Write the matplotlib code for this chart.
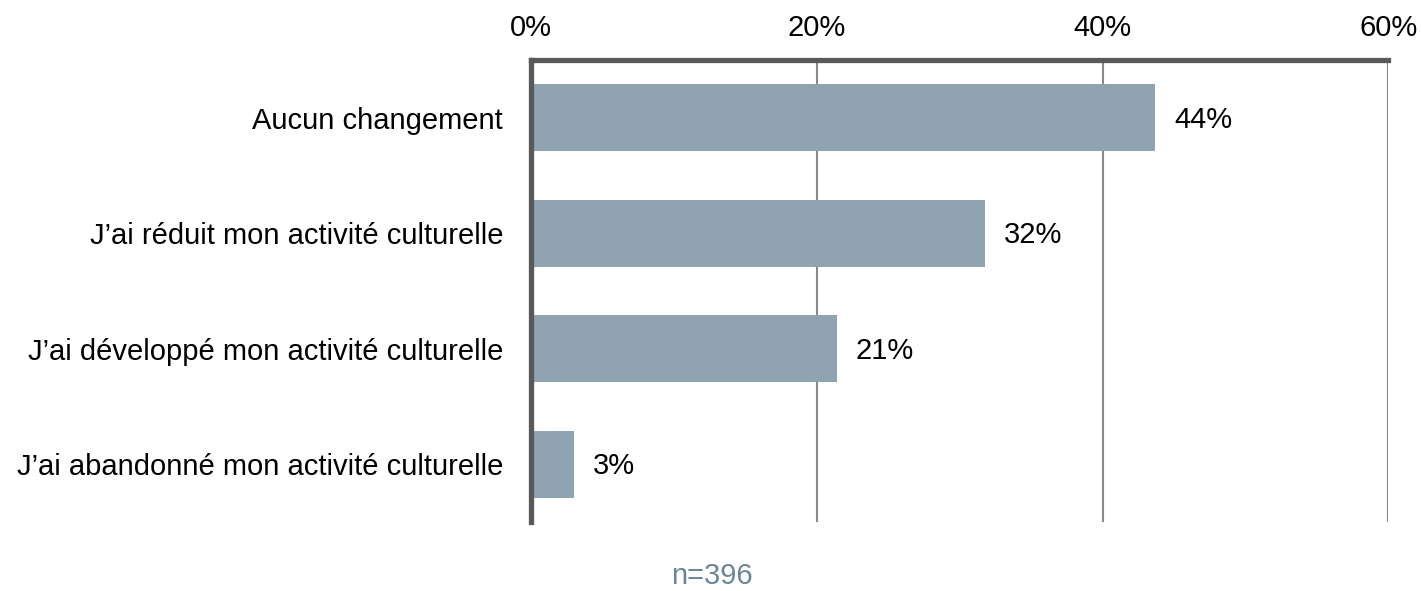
import matplotlib
matplotlib.use("Agg")
import matplotlib.pyplot as plt
from matplotlib.ticker import FixedLocator, FuncFormatter

plt.rcParams['font.family'] = ['Liberation Sans', 'DejaVu Sans']

categories = [
    "Aucun changement",
    "J\u2019ai réduit mon activité culturelle",
    "J\u2019ai développé mon activité culturelle",
    "J\u2019ai abandonné mon activité culturelle",
]
values = [43.7, 31.8, 21.4, 3.0]
x_ticks = [0, 20, 40, 60]
sample_note = "n=396"

bar_color = "#8fa3b0"
spine_color = "#595959"
grid_color = "#8a8a8a"
fs = 21

fig = plt.figure(figsize=(14.21, 5.91), dpi=100)
ax = fig.add_axes([0.3736, 0.1168, 0.6034, 0.7817])

y = list(range(len(categories)))
ax.barh(y, values, height=0.58, color=bar_color, zorder=2)
ax.set_ylim(len(categories) - 0.5, -0.5)
ax.set_xlim(0, 60)

ax.xaxis.set_major_locator(FixedLocator(x_ticks))
ax.xaxis.set_major_formatter(FuncFormatter(lambda v, p: f"{v:.0f}%"))
ax.xaxis.tick_top()
ax.tick_params(axis='x', length=0, pad=13, labelsize=fs, labelcolor="#000000")
ax.tick_params(axis='y', length=0, pad=20, labelsize=fs, labelcolor="#000000")
ax.set_yticks(y)
ax.set_yticklabels(categories)

ax.grid(axis='x', color=grid_color, linewidth=1.5, zorder=0)
ax.set_axisbelow(True)

for side in ['right', 'bottom']:
    ax.spines[side].set_visible(False)
for side in ['left', 'top']:
    ax.spines[side].set_color(spine_color)
    ax.spines[side].set_linewidth(3.8)
    ax.spines[side].set_zorder(3)

for yi, v in zip(y, values):
    ax.annotate(f"{v:.0f}%", xy=(v, yi), xytext=(19, -2), textcoords='offset pixels',
                ha='left', va='center', fontsize=fs, color="#000000")

fig.text(712 / 1421, 1 - 584 / 591, sample_note, ha='center', va='baseline',
         fontsize=fs, color="#6a8597")

fig.savefig("out.png", dpi=100, facecolor="white")
